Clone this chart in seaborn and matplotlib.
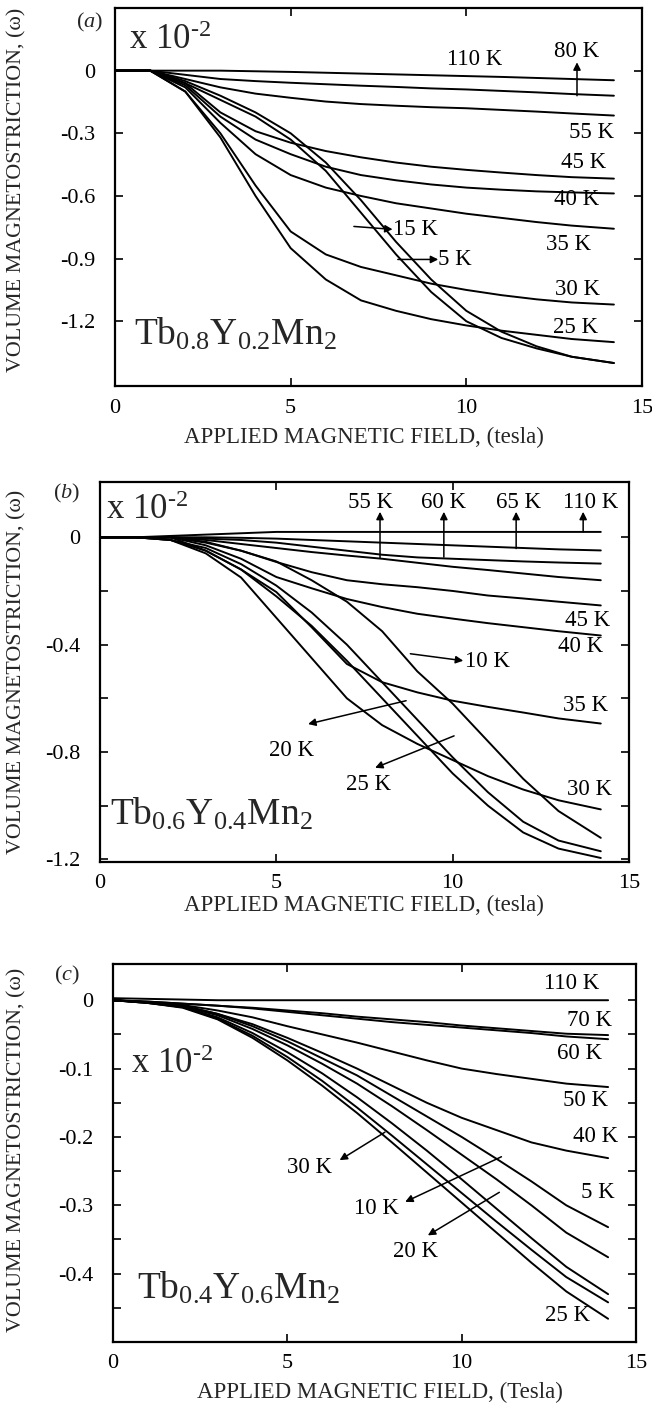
import matplotlib
matplotlib.use("Agg")
import matplotlib.pyplot as plt
import pandas as pd
import seaborn as sns

# ---------------- data (volume magnetostriction, units of 1e-2) ----------------
field = [0, 1, 2, 3, 4, 5, 6, 7, 8, 9, 10, 11, 12, 13, 14.2]

# (a) Tb0.8Y0.2Mn2
a_110K = [0, 0, 0, 0, -0.003, -0.006, -0.010, -0.014, -0.018, -0.022, -0.026, -0.030, -0.035, -0.040, -0.046]
a_80K = [0, 0, -0.02, -0.04, -0.05, -0.058, -0.065, -0.072, -0.078, -0.085, -0.09, -0.097, -0.104, -0.112, -0.12]
a_55K = [0, 0, -0.04, -0.08, -0.11, -0.13, -0.148, -0.16, -0.168, -0.175, -0.18, -0.188, -0.196, -0.205, -0.215]
a_45K = [0, 0, -0.06, -0.2, -0.29, -0.345, -0.385, -0.415, -0.44, -0.46, -0.475, -0.488, -0.5, -0.51, -0.517]
a_40K = [0, 0, -0.07, -0.22, -0.33, -0.4, -0.46, -0.5, -0.525, -0.545, -0.56, -0.57, -0.578, -0.583, -0.588]
a_35K = [0, 0, -0.08, -0.25, -0.4, -0.5, -0.56, -0.6, -0.635, -0.66, -0.685, -0.705, -0.725, -0.742, -0.757]
a_30K = [0, 0, -0.1, -0.3, -0.55, -0.77, -0.88, -0.94, -0.98, -1.02, -1.05, -1.075, -1.095, -1.11, -1.12]
a_25K = [0, 0, -0.1, -0.32, -0.6, -0.85, -1.0, -1.1, -1.15, -1.19, -1.22, -1.245, -1.265, -1.285, -1.30]
a_15K = [0, 0, -0.06, -0.14, -0.22, -0.33, -0.48, -0.68, -0.88, -1.06, -1.2, -1.28, -1.33, -1.37, -1.40]
a_5K = [0, 0, -0.05, -0.12, -0.2, -0.3, -0.44, -0.62, -0.82, -1.0, -1.15, -1.25, -1.32, -1.37, -1.40]

# (b) Tb0.6Y0.4Mn2
b_110K = [0, 0, 0.005, 0.01, 0.015, 0.02, 0.02, 0.02, 0.02, 0.02, 0.02, 0.02, 0.02, 0.02, 0.02]
b_65K = [0, 0, 0, 0, -0.002, -0.005, -0.01, -0.015, -0.02, -0.025, -0.03, -0.035, -0.04, -0.045, -0.049]
b_60K = [0, 0, 0, -0.005, -0.01, -0.02, -0.035, -0.05, -0.065, -0.075, -0.08, -0.085, -0.09, -0.094, -0.098]
b_55K = [0, 0, 0, -0.01, -0.025, -0.04, -0.055, -0.068, -0.08, -0.095, -0.11, -0.122, -0.135, -0.148, -0.16]
b_45K = [0, 0, 0, -0.017, -0.05, -0.092, -0.13, -0.16, -0.175, -0.186, -0.2, -0.217, -0.228, -0.24, -0.254]
b_40K = [0, 0, 0, -0.03, -0.08, -0.148, -0.19, -0.23, -0.26, -0.285, -0.303, -0.32, -0.335, -0.35, -0.366]
b_35K = [0, 0, 0, -0.05, -0.12, -0.204, -0.335, -0.472, -0.54, -0.578, -0.609, -0.632, -0.653, -0.675, -0.694]
b_30K = [0, 0, -0.01, -0.06, -0.15, -0.3, -0.45, -0.6, -0.7, -0.77, -0.83, -0.89, -0.94, -0.98, -1.014]
b_25K = [0, 0, -0.01, -0.05, -0.12, -0.22, -0.33, -0.46, -0.6, -0.74, -0.88, -1.0, -1.1, -1.16, -1.195]
b_20K = [0, 0, -0.01, -0.04, -0.1, -0.18, -0.28, -0.4, -0.54, -0.68, -0.82, -0.95, -1.06, -1.13, -1.17]
b_10K = [0, 0, 0, -0.02, -0.05, -0.09, -0.16, -0.24, -0.35, -0.5, -0.62, -0.76, -0.9, -1.02, -1.12]

# (c) Tb0.4Y0.6Mn2
c_110K = [0.003, 0.002, 0.001, 0, 0, 0, 0, 0, 0, 0, 0, 0, 0, 0, 0]
c_70K = [0, -0.002, -0.005, -0.008, -0.011, -0.015, -0.019, -0.024, -0.028, -0.032, -0.037, -0.041, -0.045, -0.049, -0.051]
c_60K = [0, -0.002, -0.005, -0.008, -0.012, -0.017, -0.022, -0.027, -0.032, -0.036, -0.04, -0.044, -0.048, -0.053, -0.057]
c_50K = [0, -0.003, -0.007, -0.015, -0.025, -0.038, -0.05, -0.062, -0.075, -0.088, -0.1, -0.108, -0.115, -0.122, -0.127]
c_40K = [0, -0.003, -0.008, -0.02, -0.035, -0.055, -0.077, -0.1, -0.125, -0.15, -0.172, -0.19, -0.208, -0.22, -0.231]
c_5K = [0, -0.003, -0.008, -0.02, -0.038, -0.06, -0.085, -0.11, -0.14, -0.17, -0.2, -0.232, -0.265, -0.3, -0.332]
c_10K = [0, -0.003, -0.009, -0.022, -0.042, -0.066, -0.093, -0.122, -0.155, -0.19, -0.226, -0.262, -0.3, -0.34, -0.376]
c_20K = [0, -0.004, -0.01, -0.025, -0.048, -0.076, -0.107, -0.142, -0.18, -0.22, -0.262, -0.305, -0.348, -0.39, -0.43]
c_30K = [0, -0.004, -0.01, -0.027, -0.052, -0.083, -0.118, -0.157, -0.198, -0.24, -0.282, -0.324, -0.365, -0.405, -0.442]
c_25K = [0, -0.004, -0.011, -0.028, -0.055, -0.088, -0.125, -0.165, -0.208, -0.252, -0.296, -0.34, -0.384, -0.426, -0.466]

curves_a = {"110 K": a_110K, "80 K": a_80K, "55 K": a_55K, "45 K": a_45K, "40 K": a_40K,
            "35 K": a_35K, "30 K": a_30K, "25 K": a_25K, "15 K": a_15K, "5 K": a_5K}
curves_b = {"110 K": b_110K, "65 K": b_65K, "60 K": b_60K, "55 K": b_55K, "45 K": b_45K,
            "40 K": b_40K, "35 K": b_35K, "30 K": b_30K, "25 K": b_25K, "20 K": b_20K, "10 K": b_10K}
curves_c = {"110 K": c_110K, "70 K": c_70K, "60 K": c_60K, "50 K": c_50K, "40 K": c_40K,
            "5 K": c_5K, "10 K": c_10K, "20 K": c_20K, "30 K": c_30K, "25 K": c_25K}


def long_frame(curves):
    rows = []
    for temp, vals in curves.items():
        for h, v in zip(field, vals):
            rows.append({"field": h, "strain": v, "temp": temp})
    return pd.DataFrame(rows)


# ---------------- style ----------------
sns.set_theme(style="ticks")
plt.rcParams["font.family"] = ["Liberation Serif", "DejaVu Serif"]
plt.rcParams["mathtext.fontset"] = "custom"
plt.rcParams["mathtext.rm"] = "Liberation Serif"
plt.rcParams["mathtext.it"] = "Liberation Serif:italic"
plt.rcParams["axes.unicode_minus"] = False

W, H = 652, 1405
fig = plt.figure(figsize=(W / 100, H / 100), dpi=100)


def frac_rect(left, top, right, bottom):
    return [left / W, 1 - bottom / H, (right - left) / W, (bottom - top) / H]


TICK_FS = 16
XLAB_FS = 16.5
YLAB_FS = 15.8
TEMP_FS = 16.5
SCALE_TXT = "x 10$^{\u2010 2}$"


def style_axes(ax, ylim, yticks, ylabels):
    ax.set_xlim(0, 15)
    ax.set_ylim(*ylim)
    ax.set_xticks([0, 5, 10, 15], ["0", "5", "10", "15"])
    ax.set_yticks(yticks, ylabels)
    ax.tick_params(direction="in", length=6, width=1.2, top=True, right=True,
                   labelsize=TICK_FS, colors="black")
    ax.tick_params(axis="y", pad=14)
    ax.tick_params(axis="x", pad=9)
    for s in ax.spines.values():
        s.set_linewidth(1.6)
        s.set_color("black")
    ax.set_xlabel("")
    ax.set_ylabel("")


def draw(ax, curves):
    sns.lineplot(data=long_frame(curves), x="field", y="strain", units="temp",
                 estimator=None, color="black", linewidth=1.4, legend=False, ax=ax)


def arrow(ax, tail, head):
    ax.annotate("", xy=head, xytext=tail,
                arrowprops=dict(arrowstyle="-|>", color="black", lw=1.1,
                                mutation_scale=11, shrinkA=0, shrinkB=0))


def txt(ax, x, y, s, **kw):
    kw.setdefault("fontsize", TEMP_FS)
    kw.setdefault("ha", "center")
    kw.setdefault("va", "center")
    ax.text(x, y, s, color="black", **kw)


# ---------------- panel (a) ----------------
ax_a = fig.add_axes(frac_rect(115, 8, 642, 386))
draw(ax_a, curves_a)
style_axes(ax_a, (-1.51, 0.30), [0, -0.3, -0.6, -0.9, -1.2],
           ["0", "-0.3", "-0.6", "-0.9", "-1.2"])
txt(ax_a, 10.25, 0.053, "110 K")
txt(ax_a, 13.15, 0.09, "80 K")
arrow(ax_a, (13.15, -0.12), (13.15, 0.04))
txt(ax_a, 13.57, -0.297, "55 K")
txt(ax_a, 13.33, -0.44, "45 K")
txt(ax_a, 13.15, -0.617, "40 K")
txt(ax_a, 12.9, -0.833, "35 K")
txt(ax_a, 13.15, -1.048, "30 K")
txt(ax_a, 13.1, -1.23, "25 K")
arrow(ax_a, (6.8, -0.746), (7.9, -0.76))
txt(ax_a, 7.9, -0.76, "15 K", ha="left")
arrow(ax_a, (8.05, -0.904), (9.2, -0.904))
txt(ax_a, 9.2, -0.904, "5 K", ha="left")
ax_a.text(0.4, 0.144, SCALE_TXT, fontsize=25, ha="left", va="center")
ax_a.text(0.55, -1.311, r"Tb$_{0.8}$Y$_{0.2}$Mn$_{2}$", fontsize=27, ha="left", va="baseline")

# ---------------- panel (b) ----------------
ax_b = fig.add_axes(frac_rect(100, 482, 629, 862))
draw(ax_b, curves_b)
style_axes(ax_b, (-1.21, 0.206), [0, -0.2, -0.4, -0.6, -0.8, -1.0, -1.2],
           ["0", "", "-0.4", "", "-0.8", "", "-1.2"])
for xl, y0 in [(7.94, -0.078), (9.75, -0.074), (11.8, -0.042), (13.7, 0.02)]:
    arrow(ax_b, (xl, y0), (xl, 0.095))
for xl, lab in [(7.68, "55 K"), (9.75, "60 K"), (11.87, "65 K"), (13.9, "110 K")]:
    txt(ax_b, xl, 0.13, lab)
txt(ax_b, 13.82, -0.31, "45 K")
txt(ax_b, 13.64, -0.407, "40 K")
arrow(ax_b, (8.8, -0.434), (10.3, -0.46))
txt(ax_b, 10.35, -0.462, "10 K", ha="left")
txt(ax_b, 13.76, -0.628, "35 K")
arrow(ax_b, (8.68, -0.609), (5.9, -0.696))
txt(ax_b, 5.43, -0.793, "20 K")
arrow(ax_b, (10.04, -0.74), (7.8, -0.859))
txt(ax_b, 7.62, -0.923, "25 K")
txt(ax_b, 13.88, -0.94, "30 K")
ax_b.text(0.17, 0.10, SCALE_TXT, fontsize=25, ha="left", va="center")
ax_b.text(0.28, -1.07, r"Tb$_{0.6}$Y$_{0.4}$Mn$_{2}$", fontsize=27, ha="left", va="baseline")

# ---------------- panel (c) ----------------
ax_c = fig.add_axes(frac_rect(113, 964, 636, 1342))
draw(ax_c, curves_c)
yt_c = [0, -0.05, -0.1, -0.15, -0.2, -0.25, -0.3, -0.35, -0.4, -0.45]
style_axes(ax_c, (-0.50, 0.053), yt_c,
           ["0", "", "-0.1", "", "-0.2", "", "-0.3", "", "-0.4", ""])
txt(ax_c, 13.14, 0.025, "110 K")
txt(ax_c, 13.67, -0.029, "70 K")
txt(ax_c, 13.38, -0.078, "60 K")
txt(ax_c, 13.55, -0.146, "50 K")
txt(ax_c, 13.85, -0.2, "40 K")
txt(ax_c, 13.9, -0.281, "5 K")
arrow(ax_c, (7.8, -0.193), (6.5, -0.234))
txt(ax_c, 5.63, -0.245, "30 K")
arrow(ax_c, (11.14, -0.229), (8.38, -0.295))
txt(ax_c, 7.56, -0.305, "10 K")
arrow(ax_c, (11.08, -0.281), (9.03, -0.344))
txt(ax_c, 8.68, -0.368, "20 K")
txt(ax_c, 13.03, -0.461, "25 K")
ax_c.text(0.51, -0.094, SCALE_TXT, fontsize=25, ha="left", va="center")
ax_c.text(0.69, -0.436, r"Tb$_{0.4}$Y$_{0.6}$Mn$_{2}$", fontsize=27, ha="left", va="baseline")

# ---------------- axis titles and panel letters ----------------
ylab = "VOLUME MAGNETOSTRICTION, (ω)"
for yc in (190, 672, 1150):
    fig.text(17 / W, 1 - yc / H, ylab, rotation=90, ha="center", va="center", fontsize=YLAB_FS)
fig.text(364 / W, 1 - 437 / H, "APPLIED MAGNETIC FIELD, (tesla)", ha="center", va="center", fontsize=XLAB_FS)
fig.text(364 / W, 1 - 905 / H, "APPLIED MAGNETIC FIELD, (tesla)", ha="center", va="center", fontsize=XLAB_FS)
fig.text(380 / W, 1 - 1392 / H, "APPLIED MAGNETIC FIELD, (Tesla)", ha="center", va="center", fontsize=XLAB_FS)
for (xp, yp, letter) in [(90, 22, "a"), (67, 493, "b"), (67, 975, "c")]:
    fig.text(xp / W, 1 - yp / H, "($" + letter + "$)", ha="center", va="center", fontsize=16)

fig.savefig("out.png", dpi=100, facecolor="white")
